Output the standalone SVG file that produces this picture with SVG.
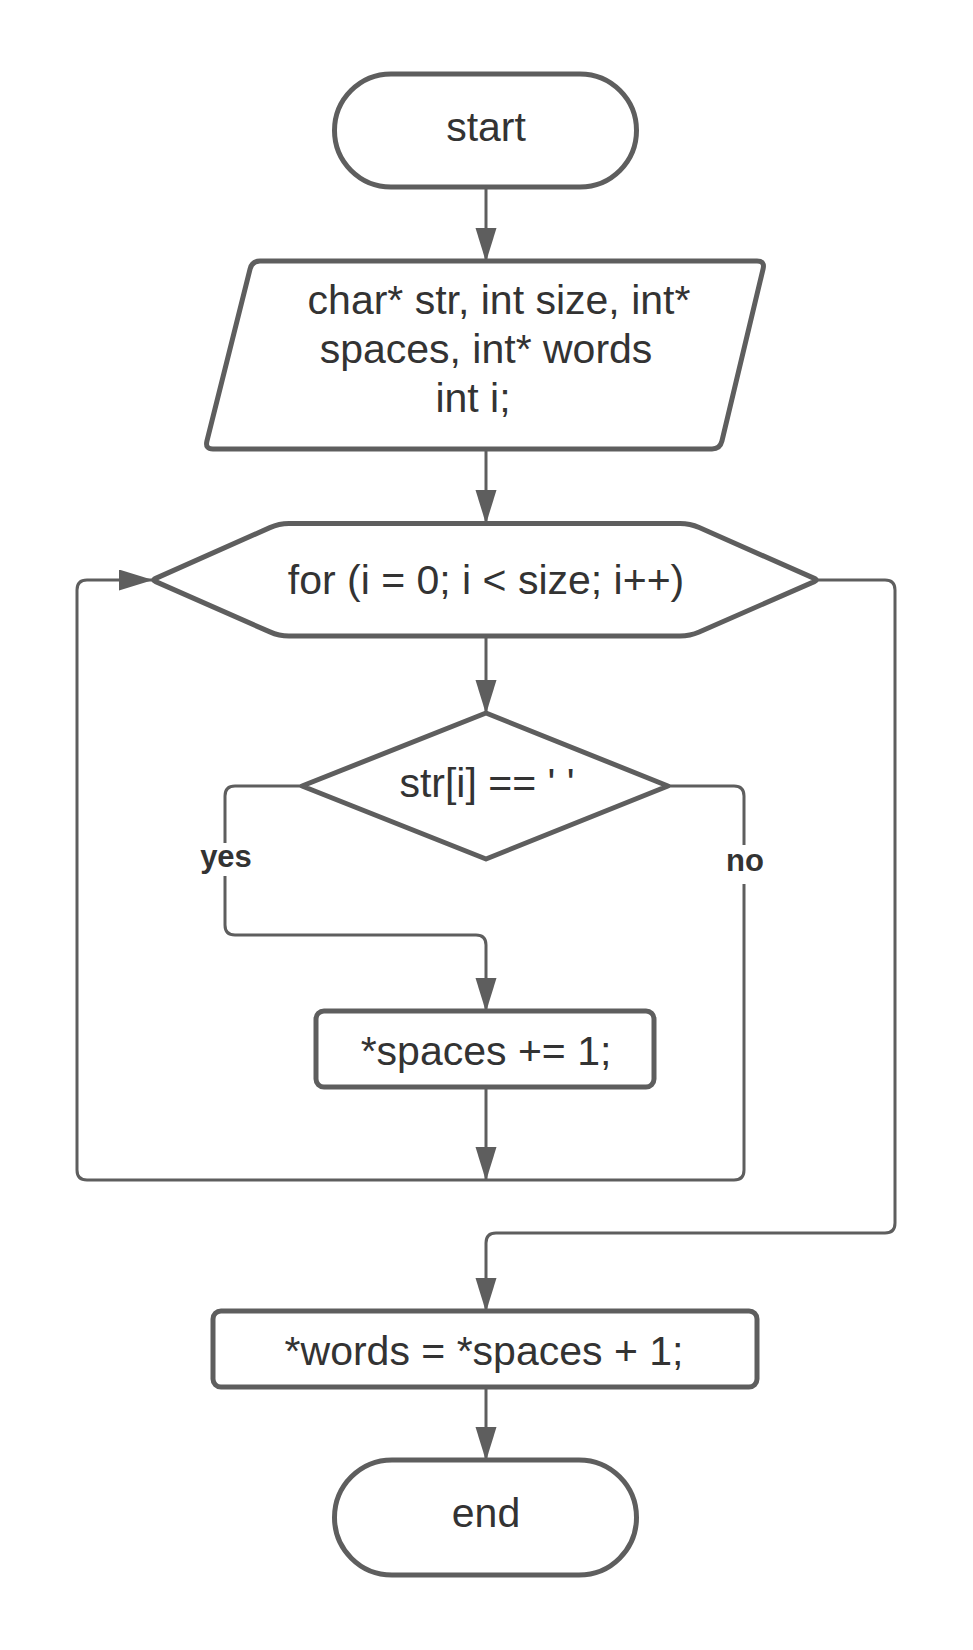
<svg xmlns="http://www.w3.org/2000/svg" width="973" height="1650" viewBox="0 0 973 1650">
<defs>
<style>
.shape{fill:#ffffff;stroke:#5e5e5e;stroke-width:5;stroke-linejoin:round}
.conn{fill:none;stroke:#5e5e5e;stroke-width:3}
.t{font-family:"Liberation Sans",Arial,sans-serif;font-size:41px;fill:#333333;text-anchor:middle}
.lbl{font-family:"Liberation Sans",Arial,sans-serif;font-size:31px;font-weight:bold;fill:#333333;text-anchor:middle}
</style>
<marker id="arr" markerUnits="userSpaceOnUse" markerWidth="34" markerHeight="22" refX="33" refY="10.5" orient="auto">
<path d="M0,0 L34,10.5 L0,21 Z" fill="#5e5e5e"/>
</marker>
</defs>
<rect width="973" height="1650" fill="#ffffff"/>
<g id="connectors">
<path class="conn" d="M486,187 V261" marker-end="url(#arr)"/>
<path class="conn" d="M486,449 V523" marker-end="url(#arr)"/>
<path class="conn" d="M486,636 V713" marker-end="url(#arr)"/>
<path class="conn" d="M302,786 H235 Q225,786 225,796 V843"/>
<path class="conn" d="M225,876 V925 Q225,935 235,935 H476 Q486,935 486,945 V1011" marker-end="url(#arr)"/>
<path class="conn" d="M668,786 H734 Q744,786 744,796 V845"/>
<path class="conn" d="M744,884 V1170 Q744,1180 734,1180 H87 Q77,1180 77,1170 V590 Q77,580 87,580 H152" marker-end="url(#arr)"/>
<path class="conn" d="M486,1087 V1180" marker-end="url(#arr)"/>
<path class="conn" d="M818,580 H885 Q895,580 895,590 V1223 Q895,1233 885,1233 H496 Q486,1233 486,1243 V1311" marker-end="url(#arr)"/>
<path class="conn" d="M486,1387 V1460" marker-end="url(#arr)"/>
<text class="lbl" x="226" y="867">yes</text>
<text class="lbl" x="745" y="871">no</text>
</g>
<g id="start">
<rect class="shape" x="334.5" y="74" width="302" height="113" rx="56.5"/>
<text class="t" x="486" y="141">start</text>
</g>
<g id="input">
<path class="shape" d="M260,261 H757 Q765,261 763.1,268.8 L721.9,441.2 Q720,449 712,449 H213 Q205,449 206.9,441.2 L250.1,268.8 Q252,261 260,261 Z"/>
<text class="t" x="499" y="314">char* str, int size, int*</text>
<text class="t" x="486" y="363">spaces, int* words</text>
<text class="t" x="473" y="412">int i;</text>
</g>
<g id="loop">
<path class="shape" d="M155.7,578.4 L269.9,527.6 Q279,523.5 289,523.5 H680 Q690,523.5 699.2,527.5 L814.3,578.4 Q818,580 814.3,581.6 L699.2,632 Q690,636 680,636 H289 Q279,636 269.9,631.9 L155.7,581.6 Q152,580 155.7,578.4 Z"/>
<text class="t" x="486" y="594">for (i = 0; i &lt; size; i++)</text>
</g>
<g id="decision">
<path class="shape" d="M486,713 L668,786 L486,859 L302,786 Z"/>
<text class="t" x="487" y="797">str[i] == ' '</text>
</g>
<g id="spaces">
<rect class="shape" x="316" y="1011" width="338" height="76" rx="8"/>
<text class="t" x="486" y="1065">*spaces += 1;</text>
</g>
<g id="words">
<rect class="shape" x="213" y="1311" width="544" height="76" rx="8"/>
<text class="t" x="484" y="1365">*words = *spaces + 1;</text>
</g>
<g id="end">
<rect class="shape" x="334.5" y="1460" width="302" height="115" rx="57.5"/>
<text class="t" x="486" y="1527">end</text>
</g>
</svg>
